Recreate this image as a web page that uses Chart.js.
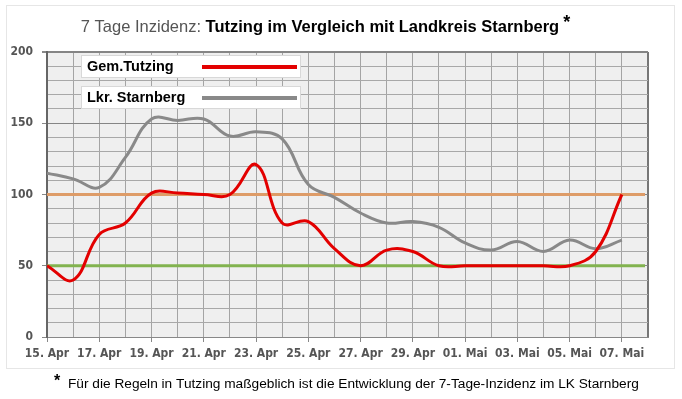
<!DOCTYPE html>
<html>
<head>
<meta charset="utf-8">
<script src="https://cdn.jsdelivr.net/npm/chart.js@4/dist/chart.umd.min.js"></script>
<style>
    html, body { margin: 0; padding: 0; background: #fff; }
    #wrap { width: 682px; height: 399px; position: relative; }
</style>
</head>
<body>
<div id="wrap"><canvas id="inzidenzChart"></canvas></div>
<script>
// Tage (Kategorien)
var days = ["15. Apr", "16. Apr", "17. Apr", "18. Apr", "19. Apr", "20. Apr", "21. Apr", "22. Apr",
            "23. Apr", "24. Apr", "25. Apr", "26. Apr", "27. Apr", "28. Apr", "29. Apr", "30. Apr",
            "01. Mai", "02. Mai", "03. Mai", "04. Mai", "05. Mai", "06. Mai", "07. Mai"];

// 7-Tage-Inzidenz
var tutzing   = [50, 40, 72, 80, 101, 101, 100, 100, 121, 80, 81, 62, 50, 61, 60, 50, 50, 50, 50, 50, 50, 60, 100];
var starnberg = [115, 111, 105, 126, 153, 152, 153, 141, 144, 139, 107, 98, 87, 80, 81, 77, 66, 61, 67, 60, 68, 62, 68];

// Grenzwerte
var thresholds = [100, 50];
var thresholdColors = ["#de9c68", "#82b34f"];

var yLabels = [0, 50, 100, 150, 200];

var labelFont = { family: "'DejaVu Sans Condensed', 'Liberation Sans Narrow', sans-serif", weight: "bold", size: 12 };

function toPoints(arr) {
    return arr.map(function (v, i) { return { x: i, y: v }; });
}

var decor = {
    id: "decor",
    beforeDraw: function (chart) {
        var ctx = chart.ctx, a = chart.chartArea;
        ctx.save();
        ctx.fillStyle = "#fff";
        ctx.fillRect(0, 0, chart.width, chart.height);
        // leichter Rahmen
        ctx.strokeStyle = "#e6e6e6";
        ctx.lineWidth = 1;
        ctx.strokeRect(6.5, 5.5, 668, 363);
        ctx.fillStyle = "#efefef";
        ctx.fillRect(a.left, a.top, a.right - a.left, a.bottom - a.top);
        ctx.restore();
    },
    beforeDatasetsDraw: function (chart) {
        var ctx = chart.ctx, a = chart.chartArea, y = chart.scales.y;
        ctx.save();
        ctx.lineWidth = 3;
        thresholds.forEach(function (t, i) {
            var py = y.getPixelForValue(t);
            ctx.strokeStyle = thresholdColors[i];
            ctx.beginPath();
            ctx.moveTo(a.left, py);
            ctx.lineTo(a.right - 3, py);
            ctx.stroke();
        });
        ctx.restore();
    },
    afterDraw: function (chart) {
        var ctx = chart.ctx;
        ctx.save();

        // Legende
        chart.data.datasets.forEach(function (ds, i) {
            var top = 55 + i * 31;
            ctx.fillStyle = "#fff";
            ctx.strokeStyle = "#d8d8d8";
            ctx.lineWidth = 1;
            ctx.fillRect(81, top, 219, 22);
            ctx.strokeRect(81.5, top + 0.5, 219, 22);
            ctx.fillStyle = "#000";
            ctx.font = "bold 14.5px 'Liberation Sans', Arial, sans-serif";
            ctx.textBaseline = "middle";
            ctx.textAlign = "left";
            ctx.fillText(ds.label, 87, top + 12);
            ctx.strokeStyle = ds.borderColor;
            ctx.lineWidth = 4;
            ctx.beginPath();
            ctx.moveTo(202, top + 12);
            ctx.lineTo(297, top + 12);
            ctx.stroke();
        });

        // Titel
        var t1 = "7 Tage Inzidenz: ", t2 = "Tutzing im Vergleich mit Landkreis Starnberg";
        var f1 = "16.5px 'Liberation Sans', Arial, sans-serif";
        var f2 = "bold 16.5px 'Liberation Sans', Arial, sans-serif";
        ctx.font = f1; var w1 = ctx.measureText(t1).width;
        ctx.font = f2; var w2 = ctx.measureText(t2).width;
        var x0 = 320 - (w1 + w2) / 2;
        ctx.textBaseline = "alphabetic";
        ctx.textAlign = "left";
        ctx.font = f1; ctx.fillStyle = "#555";
        ctx.fillText(t1, x0, 32);
        ctx.font = f2; ctx.fillStyle = "#000";
        ctx.fillText(t2, x0 + w1, 32);
        ctx.font = "bold 18px 'Liberation Sans', Arial, sans-serif";
        ctx.fillText("*", x0 + w1 + w2 + 4, 28);

        // Fussnote
        ctx.font = "bold 16px 'Liberation Sans', Arial, sans-serif";
        ctx.fillText("*", 54, 386);
        ctx.font = "13.7px 'Liberation Sans', Arial, sans-serif";
        ctx.fillText("Für die Regeln in Tutzing maßgeblich ist die Entwicklung der 7-Tage-Inzidenz im LK Starnberg", 68, 388);

        ctx.restore();
    }
};

var ctx = document.getElementById("inzidenzChart").getContext("2d");
new Chart(ctx, {
    type: "line",
    data: {
        datasets: [
            {
                label: "Gem.Tutzing",
                data: toPoints(tutzing),
                borderColor: "#e30000",
                borderWidth: 3,
                pointRadius: 0,
                tension: 0.4
            },
            {
                label: "Lkr. Starnberg",
                data: toPoints(starnberg),
                borderColor: "#898989",
                borderWidth: 3,
                pointRadius: 0,
                tension: 0.4
            }
        ]
    },
    options: {
        responsive: true,
        maintainAspectRatio: false,
        animation: false,
        devicePixelRatio: 1,
        layout: { padding: { top: 52, right: 34, left: 0, bottom: 0 } },
        plugins: {
            legend: { display: false },
            tooltip: { enabled: false }
        },
        scales: {
            x: {
                type: "linear",
                min: 0,
                max: days.length,
                afterFit: function (scale) { scale.height = 62; },
                ticks: {
                    stepSize: 1,
                    maxTicksLimit: 40,
                    autoSkip: false,
                    maxRotation: 0,
                    padding: 5,
                    color: "#555",
                    font: labelFont,
                    callback: function (v) {
                        return (v % 2 === 0 && days[v]) ? days[v] : "";
                    }
                },
                grid: {
                    color: function (c) { return c.tick && c.tick.value === days.length ? "#777" : "#a4a4a4"; },
                    lineWidth: function (c) { return c.tick && c.tick.value === days.length ? 2 : 1; },
                    tickLength: 5,
                    tickColor: function (c) { return c.tick && c.tick.value % 2 === 0 && days[c.tick.value] ? "#888" : "rgba(0,0,0,0)"; }
                },
                border: { color: "#888", width: 1 }
            },
            y: {
                min: 0,
                max: 200,
                afterFit: function (scale) { scale.width = 47; },
                ticks: {
                    stepSize: 10,
                    maxTicksLimit: 40,
                    autoSkip: false,
                    padding: 9,
                    color: "#555",
                    font: labelFont,
                    callback: function (v) { return yLabels.indexOf(v) >= 0 ? v : ""; }
                },
                grid: {
                    color: function (c) { return c.tick && c.tick.value % 50 === 0 ? "#858585" : "#a8a8a8"; },
                    lineWidth: function (c) { return c.tick && c.tick.value === 200 ? 2 : 1; },
                    tickLength: 5,
                    tickColor: function (c) { return c.tick && c.tick.value % 50 === 0 ? "#888" : "rgba(0,0,0,0)"; }
                },
                border: { color: "#666", width: 2 }
            }
        }
    },
    plugins: [decor]
});
</script>
</body>
</html>
